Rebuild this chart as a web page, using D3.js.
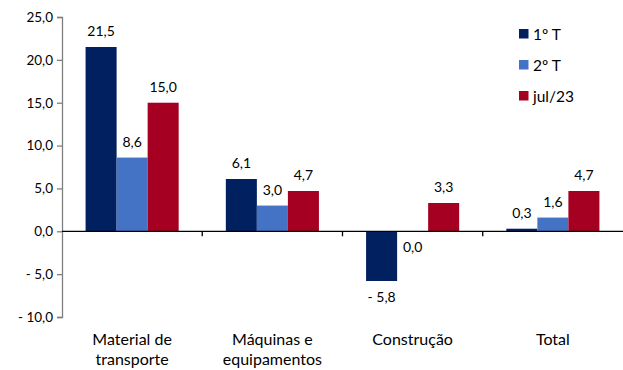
<!DOCTYPE html>
<html>
<head>
<meta charset="utf-8">
<script src="https://cdn.jsdelivr.net/npm/d3@7/dist/d3.min.js"></script>
<style>
  html, body { margin: 0; padding: 0; background: #fff; }
  svg { display: block; font-family: Lato, "Open Sans", sans-serif; }
</style>
</head>
<body>
<svg id="chart" width="623" height="370"></svg>
<script>
// Categories (each may break across two lines)
const categories = ["Material de transporte", "Máquinas e equipamentos", "Construção", "Total"];
const categoryLines = [["Material de", "transporte"], ["Máquinas e", "equipamentos"], ["Construção"], ["Total"]];
const seriesNames = ["1º T", "2º T", "jul/23"];
const seriesColors = ["#002060", "#4472C4", "#A50021"];
// Values per series, in category order
const q1Values = [21.5, 6.1, -5.8, 0.3];
const q2Values = [8.6, 3.0, 0.0, 1.6];
const julValues = [15.0, 4.7, 3.3, 4.7];
const yTicks = [-10, -5, 0, 5, 10, 15, 20, 25];

const seriesValues = [q1Values, q2Values, julValues];
const fmt = v => {
  const s = Math.abs(v).toFixed(1).replace(".", ",");
  return v < 0 ? "- " + s : s;
};

const svg = d3.select("#chart");
const plot = { left: 62, right: 623, top: 17, bottom: 317 };

const y = d3.scaleLinear().domain([-10, 25]).range([plot.bottom, plot.top]);
const x0 = d3.scaleBand().domain(categories).range([plot.left, plot.right]).padding(0);
const x1 = d3.scaleBand().domain(seriesNames).range([0, x0.bandwidth()])
  .paddingInner(0).paddingOuter(0.76);

// Bars
const rows = [];
categories.forEach((c, ci) => {
  seriesNames.forEach((s, si) => rows.push({ c, ci, s, si, v: seriesValues[si][ci] }));
});

svg.append("g").selectAll("rect").data(rows).join("rect")
  .attr("x", d => x0(d.c) + x1(d.s))
  .attr("width", x1.bandwidth())
  .attr("y", d => y(Math.max(0, d.v)))
  .attr("height", d => Math.abs(y(d.v) - y(0)))
  .attr("fill", d => seriesColors[d.si]);

// Y axis
const yAxis = d3.axisLeft(y).tickValues(yTicks).tickSize(5).tickFormat(fmt);
const gy = svg.append("g").attr("transform", `translate(${plot.left},0)`).call(yAxis);
gy.select(".domain").attr("stroke", "#7f7f7f").attr("stroke-width", 1.3);
gy.selectAll(".tick line").attr("stroke", "#7f7f7f").attr("stroke-width", 1.3);
gy.selectAll(".tick text").attr("font-size", 13.5).attr("fill", "#000")
  .attr("x", -9).attr("font-family", "Lato, sans-serif");

// Zero line with category separators
svg.append("line")
  .attr("x1", plot.left).attr("x2", plot.right)
  .attr("y1", y(0)).attr("y2", y(0))
  .attr("stroke", "#000").attr("stroke-width", 1.3);
const sepX = categories.slice(1).map(c => x0(c));
svg.append("g").selectAll("line").data(sepX).join("line")
  .attr("x1", d => d).attr("x2", d => d)
  .attr("y1", y(0)).attr("y2", y(0) + 5)
  .attr("stroke", "#000").attr("stroke-width", 1.3);

// Value labels
svg.append("g").selectAll("text").data(rows).join("text")
  .attr("x", d => x0(d.c) + x1(d.s) + x1.bandwidth() / 2)
  .attr("y", d => d.v > 0 ? y(d.v) - 11 : y(Math.min(0, d.v)) + 21)
  .attr("text-anchor", "middle")
  .attr("font-size", 14)
  .attr("fill", "#000")
  .text(d => fmt(d.v));

// Category labels
const cl = svg.append("g").selectAll("text").data(categories).join("text")
  .attr("x", d => x0(d) + x0.bandwidth() / 2)
  .attr("y", 345)
  .attr("text-anchor", "middle")
  .attr("font-size", 16)
  .attr("fill", "#000");
cl.each(function (d, i) {
  d3.select(this).selectAll("tspan").data(categoryLines[i]).join("tspan")
    .attr("x", x0(d) + x0.bandwidth() / 2)
    .attr("dy", (t, j) => j === 0 ? 0 : 20)
    .text(t => t);
});

// Legend
const lg = svg.append("g").attr("transform", "translate(519,29)");
const li = lg.selectAll("g").data(seriesNames).join("g")
  .attr("transform", (d, i) => `translate(0,${i * 31})`);
li.append("rect").attr("width", 9.5).attr("height", 9.5)
  .attr("fill", (d, i) => seriesColors[i]);
li.append("text").attr("x", 14).attr("y", 10.5)
  .attr("font-size", 15.5).attr("fill", "#000").text(d => d);
</script>
</body>
</html>
